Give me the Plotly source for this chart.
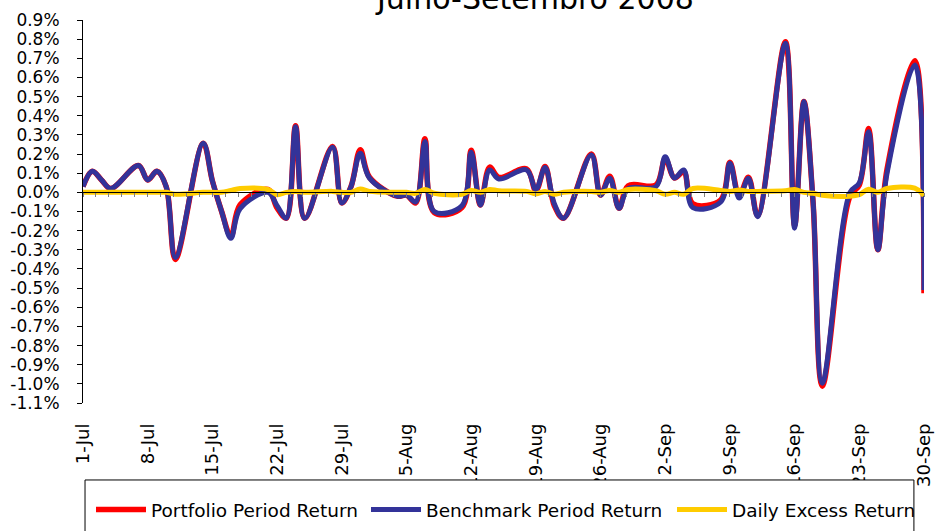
import plotly.graph_objects as go

dates = (
    ["2008-07-%02d" % d for d in [1, 2, 3, 4, 7, 8, 9, 10, 11, 14, 15, 16, 17, 18, 21, 22, 23, 24, 25, 28, 29, 30, 31]]
    + ["2008-08-%02d" % d for d in [1, 4, 5, 6, 7, 8, 11, 12, 13, 14, 15, 18, 19, 20, 21, 22, 25, 26, 27, 28, 29]]
    + ["2008-09-%02d" % d for d in [1, 2, 3, 4, 5, 8, 9, 10, 11, 12, 15, 16, 17, 18, 19, 22, 23, 24, 25, 26, 29, 30]]
)

benchmark = [
    0.03, 0.11, 0.065, 0.02, 0.14, 0.065, 0.11, 0.03, -0.34, 0.256, 0.06, -0.10, -0.24, -0.085, 0.0, -0.07,
    -0.135, 0.343, -0.135, 0.235, -0.055, 0.03, 0.204,
    0.074, -0.02, -0.014, -0.05, 0.265, -0.10, -0.07, 0.21, -0.066, 0.117, 0.07, 0.117, 0.015, 0.13, -0.06,
    -0.135, 0.195, -0.014, 0.074, -0.083, 0.02,
    0.03, 0.186, 0.075, 0.117, -0.08, -0.05, 0.152, -0.03, 0.074, -0.127, 0.778, -0.187, 0.474, -0.05, -0.997,
    0.0, 0.05, 0.317, -0.30, 0.10, 0.665, -0.51,
]

portfolio = [
    0.03, 0.11, 0.065, 0.02, 0.14, 0.065, 0.11, 0.03, -0.35, 0.256, 0.06, -0.10, -0.23, -0.065, 0.015, -0.082,
    -0.135, 0.348, -0.135, 0.24, -0.055, 0.03, 0.222,
    0.079, -0.02, -0.014, -0.055, 0.28, -0.105, -0.08, 0.22, -0.066, 0.132, 0.078, 0.122, 0.007, 0.135, -0.07,
    -0.135, 0.2, -0.014, 0.084, -0.083, 0.035,
    0.038, 0.176, 0.075, 0.107, -0.06, -0.04, 0.157, -0.018, 0.079, -0.122, 0.786, -0.172, 0.474, -0.055, -1.012,
    -0.02, 0.038, 0.333, -0.30, 0.12, 0.687, -0.527,
]

excess = [
    0, 0, 0, 0, 0, 0, 0, 0, -0.01, 0, 0, 0, 0.01, 0.02, 0.015, -0.012, 0, 0.005, 0, 0.005, 0, 0, 0.018,
    0.005, 0, 0, -0.005, 0.015, -0.005, -0.01, 0.01, 0, 0.015, 0.008, 0.005, -0.008, 0.005, -0.01, 0, 0.005, 0,
    0.01, 0, 0.015,
    0.008, -0.01, 0, -0.01, 0.02, 0.01, 0.005, 0.012, 0.005, 0.005, 0.008, 0.015, 0, -0.005, -0.015, -0.02,
    -0.012, 0.016, 0, 0.02, 0.022, -0.017,
]

y_tick_values = [0.9, 0.8, 0.7, 0.6, 0.5, 0.4, 0.3, 0.2, 0.1, 0.0, -0.1, -0.2, -0.3, -0.4, -0.5, -0.6, -0.7,
                 -0.8, -0.9, -1.0, -1.1]
y_tick_labels = ["0.9%", "0.8%", "0.7%", "0.6%", "0.5%", "0.4%", "0.3%", "0.2%", "0.1%", "0.0%", "-0.1%",
                 "-0.2%", "-0.3%", "-0.4%", "-0.5%", "-0.6%", "-0.7%", "-0.8%", "-0.9%", "-1.0%", "-1.1%"]

series_names = ["Portfolio Period Return", "Benchmark Period Return", "Daily Excess Return"]
chart_title = "Julho-Setembro 2008"

FONT = "DejaVu Sans"
DAY_MS = 86400000

fig = go.Figure()
fig.add_trace(go.Scatter(x=dates, y=portfolio, name=series_names[0], mode="lines",
                         line=dict(color="#FF0000", width=5.5, shape="spline", smoothing=1.0),
                         legend="legend2"))
fig.add_trace(go.Scatter(x=dates, y=benchmark, name=series_names[1], mode="lines",
                         line=dict(color="#333399", width=5, shape="spline", smoothing=1.0),
                         legend="legend3"))
fig.add_trace(go.Scatter(x=dates, y=excess, name=series_names[2], mode="lines", xaxis="x2",
                         line=dict(color="#FFCC00", width=5, shape="spline", smoothing=1.0),
                         legend="legend4"))

legend_common = dict(orientation="h", bgcolor="rgba(0,0,0,0)", borderwidth=0, itemwidth=50,
                     font=dict(family=FONT, size=18.5, color="#000000"),
                     xref="container", yref="container", yanchor="middle", y=21 / 531, xanchor="left")

fig.update_layout(
    width=940, height=531,
    margin=dict(l=83, r=16, t=20, b=128, autoexpand=False),
    paper_bgcolor="white", plot_bgcolor="white",
    font=dict(family=FONT, size=18, color="#000000"),
    annotations=[dict(text=chart_title, xref="paper", yref="paper", x=0.537, y=1.0574, xanchor="center",
                      yanchor="middle", showarrow=False,
                      font=dict(family=FONT, size=30, color="#000000"))],
    xaxis=dict(type="date", range=["2008-07-01", "2008-09-30"], tickmode="linear", tick0="2008-07-01",
               dtick=7 * DAY_MS, tickformat="%-d-%b", tickangle=-90, ticks="", showline=False,
               showgrid=False, zeroline=False, ticklabelstandoff=16, automargin=False,
               tickfont=dict(family=FONT, size=18, color="#000000")),
    xaxis2=dict(type="date", matches="x", overlaying="x", anchor="free", position=0.55, side="bottom",
                tickmode="linear", tick0="2008-07-01", dtick=1.4 * DAY_MS, ticks="outside", ticklen=4,
                tickcolor="#808080", showticklabels=False, showline=True, linecolor="#000000", linewidth=1,
                showgrid=False, zeroline=False, automargin=False),
    yaxis=dict(range=[-1.1, 0.9], tickmode="array", tickvals=y_tick_values, ticktext=y_tick_labels,
               ticks="outside", ticklen=5, tickcolor="#000000", showline=True, linecolor="#000000",
               linewidth=1, showgrid=False, zeroline=False, ticklabelstandoff=14, automargin=False,
               tickfont=dict(family=FONT, size=17, color="#000000")),
    legend=dict(visible=False),
    legend2=dict(legend_common, x=91 / 940),
    legend3=dict(legend_common, x=366 / 940),
    legend4=dict(legend_common, x=672 / 940),
    shapes=[dict(type="rect", xref="paper", yref="paper", x0=0.0024, x1=0.988, y0=-0.201, y1=-0.45,
                 fillcolor="white", line=dict(color="#000000", width=1), layer="above")],
)

fig.write_html("out.html", config={"displayModeBar": False},
               post_script="document.body.style.margin='0';")
